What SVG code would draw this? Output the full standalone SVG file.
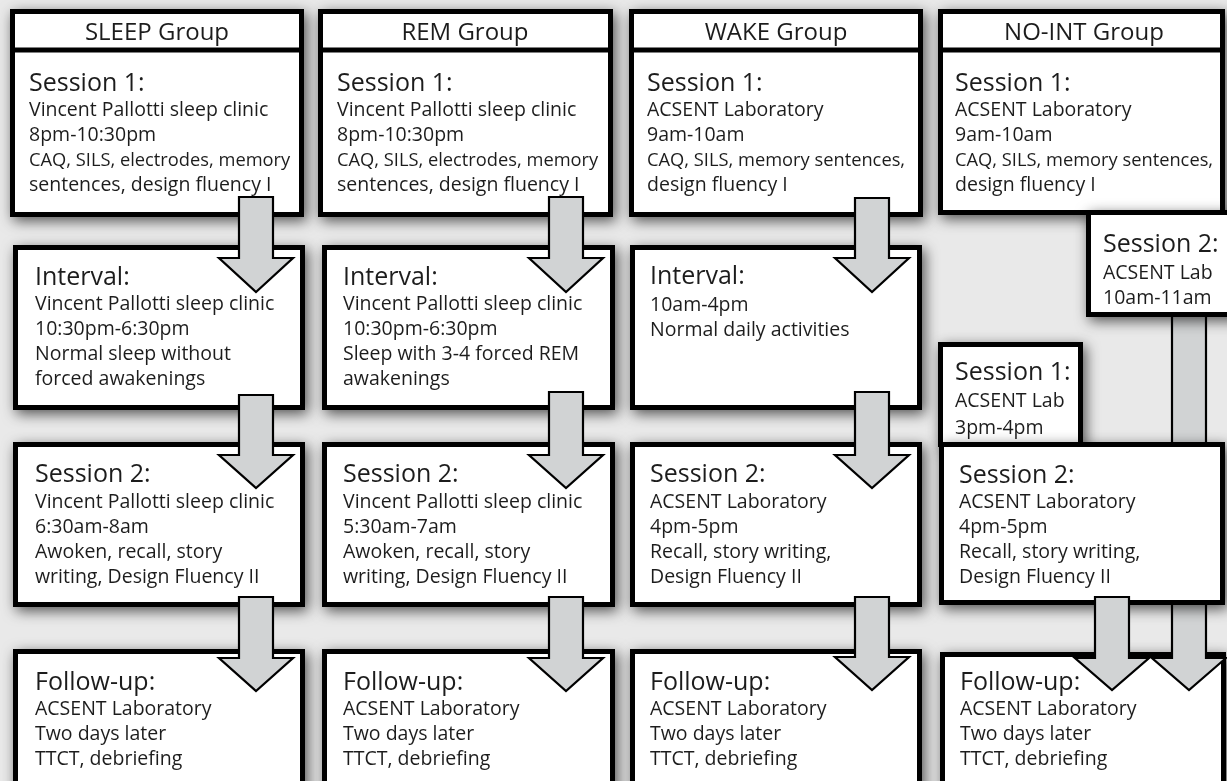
<svg xmlns="http://www.w3.org/2000/svg" width="1227" height="781" viewBox="0 0 1227 781">
<defs>
<filter id="sh" x="-15%" y="-15%" width="135%" height="140%">
<feDropShadow dx="3" dy="4" stdDeviation="7" flood-color="#000" flood-opacity="0.65"/>
</filter>
<style>
.bg{fill:#e9e9e9}
.box{fill:#fff;stroke:#000;stroke-width:5}
.div{stroke:#000;stroke-width:5}
.arr{fill:#d1d3d4;stroke:#000;stroke-width:2.2;stroke-linejoin:miter}
text{font-family:"Open Sans","Liberation Sans",sans-serif;fill:#1e1e1e}
.h{font-size:24px;text-anchor:middle}
.t{font-size:25px}
.b{font-size:19.5px}
.n{font-size:18.3px}
</style>
</defs>
<rect class="bg" x="0" y="0" width="1227" height="781"/>

<!-- Row 1 -->
<g id="sleep-s1" filter="url(#sh)">
<rect class="box" x="12.5" y="11.5" width="289" height="203"/>
<line class="div" x1="10" y1="50" x2="304" y2="50"/>
<text class="h" x="157" y="40">SLEEP Group</text>
<text class="t" x="29" y="91">Session 1:</text>
<text class="b" x="29" y="116">Vincent Pallotti sleep clinic</text>
<text class="b" x="29" y="141">8pm-10:30pm</text>
<text class="n" x="29" y="166">CAQ, SILS, electrodes, memory</text>
<text class="b" x="29" y="191">sentences, design fluency I</text>
</g>
<g id="rem-s1" filter="url(#sh)">
<rect class="box" x="320.5" y="11.5" width="290" height="203"/>
<line class="div" x1="318" y1="50" x2="613" y2="50"/>
<text class="h" x="465" y="40">REM Group</text>
<text class="t" x="337" y="91">Session 1:</text>
<text class="b" x="337" y="116">Vincent Pallotti sleep clinic</text>
<text class="b" x="337" y="141">8pm-10:30pm</text>
<text class="n" x="337" y="166">CAQ, SILS, electrodes, memory</text>
<text class="b" x="337" y="191">sentences, design fluency I</text>
</g>
<g id="wake-s1" filter="url(#sh)">
<rect class="box" x="631.5" y="11.5" width="289" height="203"/>
<line class="div" x1="629" y1="50" x2="923" y2="50"/>
<text class="h" x="776" y="40">WAKE Group</text>
<text class="t" x="647" y="91">Session 1:</text>
<text class="b" x="647" y="116">ACSENT Laboratory</text>
<text class="b" x="647" y="141">9am-10am</text>
<text class="n" x="647" y="166">CAQ, SILS, memory sentences,</text>
<text class="b" x="647" y="191">design fluency I</text>
</g>
<g id="noint-s1" filter="url(#sh)">
<rect class="box" x="940.5" y="11.5" width="282" height="201"/>
<line class="div" x1="938" y1="50" x2="1225" y2="50"/>
<text class="h" x="1084" y="40">NO-INT Group</text>
<text class="t" x="955" y="91">Session 1:</text>
<text class="b" x="955" y="116">ACSENT Laboratory</text>
<text class="b" x="955" y="141">9am-10am</text>
<text class="n" x="955" y="166">CAQ, SILS, memory sentences,</text>
<text class="b" x="955" y="191">design fluency I</text>
</g>

<!-- Row 2 -->
<g id="sleep-int" filter="url(#sh)">
<rect class="box" x="15.5" y="247.5" width="287" height="160"/>
<text class="t" x="35" y="285">Interval:</text>
<text class="b" x="35" y="310">Vincent Pallotti sleep clinic</text>
<text class="b" x="35" y="335">10:30pm-6:30pm</text>
<text class="b" x="35" y="360">Normal sleep without</text>
<text class="b" x="35" y="385">forced awakenings</text>
</g>
<g id="rem-int" filter="url(#sh)">
<rect class="box" x="324.5" y="247.5" width="288" height="160"/>
<text class="t" x="343" y="285">Interval:</text>
<text class="b" x="343" y="310">Vincent Pallotti sleep clinic</text>
<text class="b" x="343" y="335">10:30pm-6:30pm</text>
<text class="b" x="343" y="360">Sleep with 3-4 forced REM</text>
<text class="b" x="343" y="385">awakenings</text>
</g>
<g id="wake-int" filter="url(#sh)">
<rect class="box" x="632.5" y="247.5" width="287" height="160"/>
<text class="t" x="650" y="284">Interval:</text>
<text class="b" x="650" y="311">10am-4pm</text>
<text class="b" x="650" y="336">Normal daily activities</text>
</g>

<!-- Row 4 (follow-up) -->
<g id="sleep-fu" filter="url(#sh)">
<rect class="box" x="15.5" y="651.5" width="287" height="150"/>
<text class="t" x="35" y="690">Follow-up:</text>
<text class="b" x="35" y="715">ACSENT Laboratory</text>
<text class="b" x="35" y="740">Two days later</text>
<text class="b" x="35" y="765">TTCT, debriefing</text>
</g>
<g id="rem-fu" filter="url(#sh)">
<rect class="box" x="324.5" y="651.5" width="288" height="150"/>
<text class="t" x="343" y="690">Follow-up:</text>
<text class="b" x="343" y="715">ACSENT Laboratory</text>
<text class="b" x="343" y="740">Two days later</text>
<text class="b" x="343" y="765">TTCT, debriefing</text>
</g>
<g id="wake-fu" filter="url(#sh)">
<rect class="box" x="632.5" y="651.5" width="287" height="150"/>
<text class="t" x="650" y="690">Follow-up:</text>
<text class="b" x="650" y="715">ACSENT Laboratory</text>
<text class="b" x="650" y="740">Two days later</text>
<text class="b" x="650" y="765">TTCT, debriefing</text>
</g>
<g id="noint-fu" filter="url(#sh)">
<rect class="box" x="942.5" y="654.5" width="281" height="150"/>
<text class="t" x="960" y="690">Follow-up:</text>
<text class="b" x="960" y="715">ACSENT Laboratory</text>
<text class="b" x="960" y="740">Two days later</text>
<text class="b" x="960" y="765">TTCT, debriefing</text>
</g>

<!-- long arrow behind NO-INT boxes -->
<g id="connectors-back">
<polygon class="arr" points="1172,300 1206,300 1206,658 1226,658 1189,690 1152,658 1172,658"/>
</g>

<!-- Row 3 -->
<g id="sleep-s2" filter="url(#sh)">
<rect class="box" x="15.5" y="444.5" width="287" height="160"/>
<text class="t" x="35" y="482">Session 2:</text>
<text class="b" x="35" y="508">Vincent Pallotti sleep clinic</text>
<text class="b" x="35" y="533">6:30am-8am</text>
<text class="b" x="35" y="558">Awoken, recall, story</text>
<text class="b" x="35" y="583">writing, Design Fluency II</text>
</g>
<g id="rem-s2" filter="url(#sh)">
<rect class="box" x="324.5" y="444.5" width="288" height="160"/>
<text class="t" x="343" y="482">Session 2:</text>
<text class="b" x="343" y="508">Vincent Pallotti sleep clinic</text>
<text class="b" x="343" y="533">5:30am-7am</text>
<text class="b" x="343" y="558">Awoken, recall, story</text>
<text class="b" x="343" y="583">writing, Design Fluency II</text>
</g>
<g id="wake-s2" filter="url(#sh)">
<rect class="box" x="632.5" y="444.5" width="287" height="160"/>
<text class="t" x="650" y="482">Session 2:</text>
<text class="b" x="650" y="508">ACSENT Laboratory</text>
<text class="b" x="650" y="533">4pm-5pm</text>
<text class="b" x="650" y="558">Recall, story writing,</text>
<text class="b" x="650" y="583">Design Fluency II</text>
</g>
<g id="noint-s2-morning" filter="url(#sh)">
<rect class="box" x="1088.5" y="212.5" width="150" height="102"/>
<text class="t" x="1103" y="252">Session 2:</text>
<text class="b" x="1103" y="279">ACSENT Lab</text>
<text class="b" x="1103" y="304">10am-11am</text>
</g>
<g id="noint-s1-afternoon" filter="url(#sh)">
<rect class="box" x="940.5" y="344.5" width="140" height="100"/>
<text class="t" x="955" y="380">Session 1:</text>
<text class="b" x="955" y="407">ACSENT Lab</text>
<text class="b" x="955" y="434">3pm-4pm</text>
</g>
<g id="noint-s2" filter="url(#sh)">
<rect class="box" x="941.5" y="444.5" width="281" height="158"/>
<text class="t" x="959" y="483">Session 2:</text>
<text class="b" x="959" y="508">ACSENT Laboratory</text>
<text class="b" x="959" y="533">4pm-5pm</text>
<text class="b" x="959" y="558">Recall, story writing,</text>
<text class="b" x="959" y="583">Design Fluency II</text>
</g>

<!-- Connectors -->
<g id="connectors">
<polygon class="arr" points="239,197 273,197 273,258 293,258 256,292 219,258 239,258"/>
<polygon class="arr" points="239,395 273,395 273,455 293,455 256,488 219,455 239,455"/>
<polygon class="arr" points="239,597 273,597 273,658 293,658 256,691 219,658 239,658"/>
<polygon class="arr" points="549,197 583,197 583,258 603,258 566,292 529,258 549,258"/>
<polygon class="arr" points="549,392 583,392 583,455 603,455 566,488 529,455 549,455"/>
<polygon class="arr" points="549,597 583,597 583,658 603,658 566,691 529,658 549,658"/>
<polygon class="arr" points="855,198 889,198 889,258 909,258 872,292 835,258 855,258"/>
<polygon class="arr" points="855,392 889,392 889,455 909,455 872,488 835,455 855,455"/>
<polygon class="arr" points="855,597 889,597 889,657 909,657 872,690 835,657 855,657"/>
<polygon class="arr" points="1095,597 1129,597 1129,658 1149,658 1112,690 1075,658 1095,658"/>
</g>
</svg>
